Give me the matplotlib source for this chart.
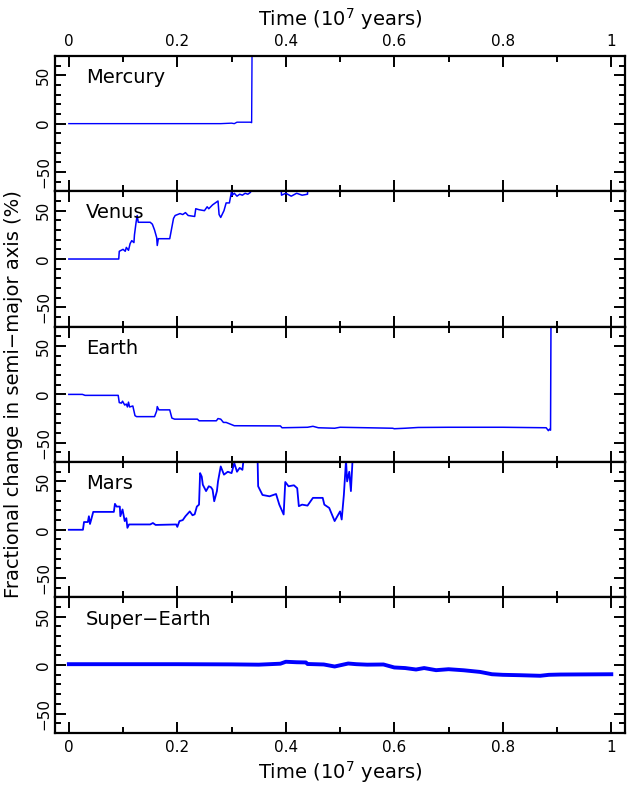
import numpy as np
import matplotlib.pyplot as plt
from matplotlib.ticker import MultipleLocator

# -----------------------------
# data: (time [1e7 yr], fractional change [%])
# -----------------------------
names = ["Mercury", "Venus", "Earth", "Mars", "Super\u2212Earth"]

mercury = [(0, 0), (0.28, 0), (0.30, 0.5), (0.305, 0), (0.31, 1.5), (0.335, 1.5),
           (0.337, 1.0), (0.338, 100)]

venus = [(0, 0), (0.092, 0), (0.093, 8), (0.100, 10), (0.104, 8), (0.106, 12),
         (0.110, 9), (0.113, 16), (0.116, 19), (0.120, 17), (0.121, 25), (0.124, 38),
         (0.126, 45), (0.128, 38), (0.150, 38), (0.154, 36), (0.158, 30), (0.162, 22),
         (0.163, 14), (0.165, 21), (0.186, 21), (0.189, 30), (0.193, 42), (0.196, 45),
         (0.205, 47), (0.210, 46), (0.215, 48), (0.220, 45), (0.232, 44), (0.234, 52),
         (0.240, 51), (0.250, 50), (0.255, 54), (0.258, 52), (0.265, 56), (0.270, 58),
         (0.275, 60), (0.277, 46), (0.280, 43), (0.286, 50), (0.290, 58), (0.296, 58),
         (0.300, 70), (0.301, 66), (0.305, 68), (0.310, 65), (0.315, 67), (0.320, 66),
         (0.325, 68), (0.330, 67), (0.335, 69), (0.338, 100), (0.390, 100), (0.392, 66),
         (0.400, 68), (0.410, 65), (0.420, 68), (0.430, 66), (0.440, 67), (0.442, 100)]

earth = [(0, 0), (0.025, 0), (0.03, -1), (0.091, -1), (0.093, -8.5), (0.097, -9),
         (0.099, -7), (0.103, -11), (0.106, -10), (0.108, -13), (0.11, -8), (0.112, -13),
         (0.118, -12), (0.122, -22), (0.125, -23), (0.158, -23), (0.162, -17),
         (0.163, -12.6), (0.166, -16), (0.186, -16), (0.19, -24.5), (0.195, -25.6),
         (0.237, -25.6), (0.24, -27.3), (0.272, -27.3), (0.275, -25), (0.28, -25.6),
         (0.285, -29), (0.29, -29), (0.302, -31.7), (0.305, -32.4), (0.39, -32.6),
         (0.393, -34.5), (0.44, -34), (0.45, -33), (0.46, -34.5), (0.49, -35), (0.5, -34),
         (0.55, -34.5), (0.597, -35), (0.6, -35.5), (0.62, -35), (0.644, -34.2),
         (0.7, -34), (0.8, -34), (0.88, -34.5), (0.884, -37.5), (0.886, -36),
         (0.888, -37), (0.889, 100)]

mars = [(0, 0), (0.026, 0), (0.028, 8), (0.035, 8), (0.037, 14), (0.039, 6), (0.041, 10),
        (0.045, 18.5), (0.083, 18.5), (0.085, 26.8), (0.088, 24), (0.094, 24), (0.095, 14),
        (0.099, 21), (0.103, 9), (0.106, 12), (0.108, 2), (0.111, 5.5), (0.15, 5.5),
        (0.155, 7), (0.16, 5), (0.198, 5.5), (0.2, 3), (0.204, 9), (0.21, 10), (0.215, 14),
        (0.223, 19), (0.228, 15), (0.232, 16), (0.236, 24), (0.24, 26), (0.242, 58.6),
        (0.245, 55), (0.247, 46.6), (0.253, 40), (0.258, 45), (0.262, 44), (0.265, 41.5),
        (0.268, 29.5), (0.273, 40), (0.275, 50), (0.28, 65.5), (0.286, 57), (0.293, 60),
        (0.3, 58.6), (0.305, 69), (0.31, 60), (0.315, 64), (0.32, 62), (0.322, 72),
        (0.34, 90), (0.348, 72), (0.349, 45), (0.357, 36), (0.37, 34.6), (0.382, 37),
        (0.388, 26), (0.396, 15.8), (0.399, 49.4), (0.405, 45), (0.415, 46), (0.421, 43),
        (0.424, 24.4), (0.43, 26), (0.44, 25), (0.45, 33), (0.468, 33), (0.471, 26),
        (0.48, 22.6), (0.49, 9), (0.5, 19), (0.503, 10.6), (0.507, 36), (0.511, 72),
        (0.513, 50), (0.517, 60), (0.52, 40), (0.523, 72), (0.524, 100)]

super_earth = [(0, 1), (0.1, 1), (0.2, 1), (0.3, 0.8), (0.35, 0.5), (0.39, 1.5),
               (0.4, 3.5), (0.42, 3), (0.437, 2.8), (0.44, 1.2), (0.47, 0.7), (0.49, -1.4),
               (0.515, 1.7), (0.53, 1), (0.55, 0.5), (0.58, 0.7), (0.6, -2.4), (0.62, -3),
               (0.64, -4.5), (0.655, -3), (0.677, -5.2), (0.7, -4.2), (0.728, -5.3),
               (0.758, -7), (0.78, -9.4), (0.8, -10), (0.832, -10.4), (0.869, -11),
               (0.885, -10), (0.906, -9.7), (1.0, -9.4)]

series = [mercury, venus, earth, mars, super_earth]
widths = [1.0, 1.1, 1.1, 1.3, 2.8]

x_ticks = [0, 0.2, 0.4, 0.6, 0.8, 1.0]
x_ticklabels = ["0", "0.2", "0.4", "0.6", "0.8", "1"]
y_ticks = [-50, 0, 50]

# -----------------------------
# figure
# -----------------------------
fig, axes = plt.subplots(5, 1, figsize=(6.28, 7.88), dpi=100, sharex=True)
fig.subplots_adjust(left=0.088, right=0.995, top=0.929, bottom=0.070, hspace=0)

for i, (ax, name, data, lw) in enumerate(zip(axes, names, series, widths)):
    d = np.array(data)
    ax.plot(d[:, 0], d[:, 1], color="#0000ff", lw=lw)
    ax.set_xlim(-0.025, 1.025)
    ax.set_ylim(-70, 70)
    ax.xaxis.set_major_locator(MultipleLocator(0.2))
    ax.xaxis.set_minor_locator(MultipleLocator(0.1))
    ax.set_yticks(y_ticks)
    ax.yaxis.set_minor_locator(MultipleLocator(10))
    ax.tick_params(which="both", direction="in", top=True, right=True, width=1.4)
    ax.tick_params(which="major", length=8)
    ax.tick_params(which="minor", length=4)
    for s in ax.spines.values():
        s.set_linewidth(1.6)
    for lab in ax.get_yticklabels():
        lab.set_rotation(90)
        lab.set_va("center")
    ax.tick_params(axis="y", labelsize=11, pad=3)
    ax.text(0.054, 0.84, name, transform=ax.transAxes, fontsize=14,
            ha="left", va="center")

axes[0].tick_params(axis="x", labeltop=True, labelbottom=False, labelsize=11, pad=5)
axes[0].set_xticks(x_ticks)
axes[0].set_xticklabels(x_ticklabels)
axes[-1].tick_params(axis="x", labelbottom=True, labelsize=11, pad=5)
for ax in axes[1:-1]:
    ax.tick_params(axis="x", labelbottom=False)

axes[0].xaxis.set_label_position("top")
axes[0].set_xlabel("Time (10$^7$ years)", fontsize=14, labelpad=6)
axes[-1].set_xlabel("Time (10$^7$ years)", fontsize=14, labelpad=3)
fig.text(0.022, 0.5, "Fractional change in semi\u2212major axis (%)", rotation=90,
         fontsize=14, ha="center", va="center")

plt.savefig("out.png", dpi=100)
